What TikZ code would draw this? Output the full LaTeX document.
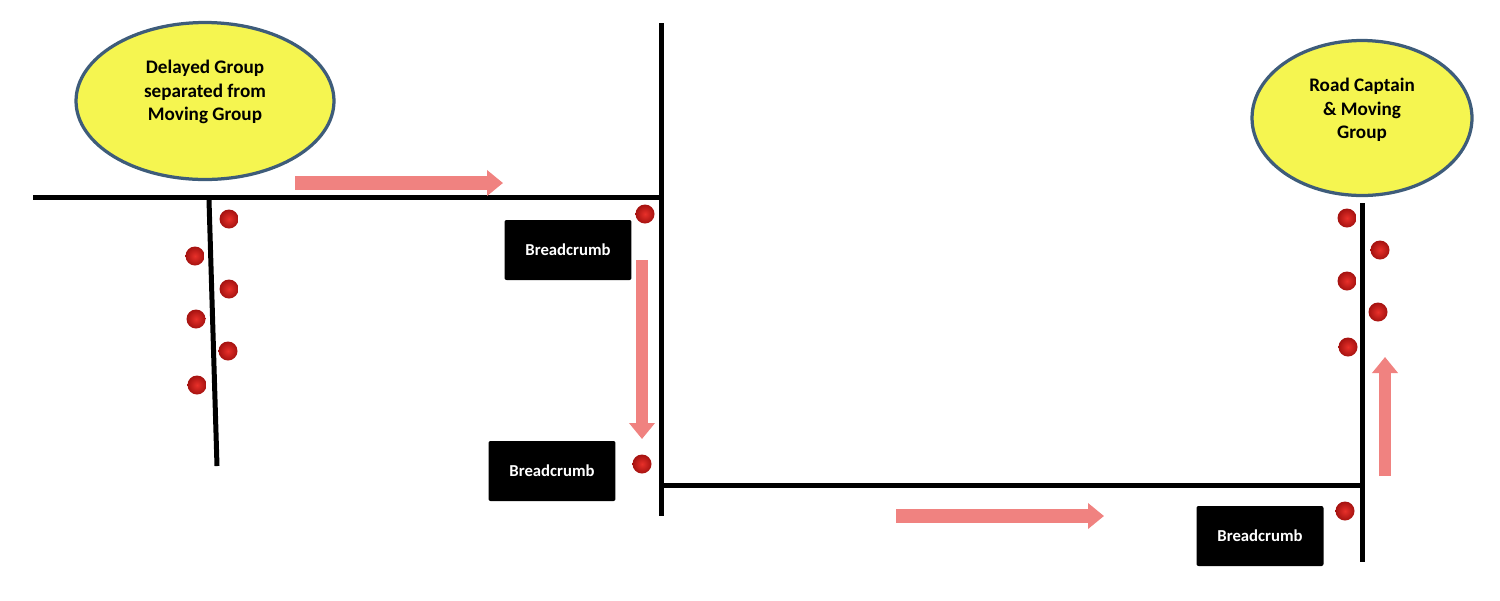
\documentclass[tikz,border=0pt]{standalone}
\usepackage{fontspec}
\setmainfont{Carlito}
\usetikzlibrary{arrows.meta,shapes.geometric}
\definecolor{ellfill}{RGB}{245,245,80}
\definecolor{ellline}{RGB}{62,92,122}
\definecolor{pinkarrow}{RGB}{240,130,128}
\definecolor{dotinner}{RGB}{232,48,42}
\definecolor{dotouter}{RGB}{165,18,16}
\tikzset{
  road/.style={line width=0.1cm, black},
  bubble/.style={ellipse, draw=ellline, line width=0.065cm, fill=ellfill, inner sep=0pt},
  bubbletext/.style={align=center, inner sep=0pt,
    font=\bfseries\fontsize{10.9}{13.3}\selectfont},
  crumb/.style={rectangle, fill=black, rounded corners=0.04cm, text=white,
    minimum width=2.54cm, minimum height=1.2cm, font=\bfseries\fontsize{9.5}{11}\selectfont},
  rider/.style={circle, minimum size=0.38cm, inner sep=0pt, shading=radial,
    inner color=dotinner, outer color=dotouter},
  move/.style={draw=pinkarrow, line width=0.27cm,
    -{Triangle[length=0.32cm, width=0.5cm, fill=pinkarrow]}, shorten >=0pt},
}
\begin{document}
\begin{tikzpicture}[x=0.02cm, y=-0.02cm]
\useasboundingbox (0,0) rectangle (1500,600);
% roads
\coordinate (r1a) at (33,197);
\coordinate (r1b) at (661,197);
\coordinate (v1a) at (661,23);
\coordinate (v1b) at (661,516);
\coordinate (sa) at (209,200);
\coordinate (sb) at (217,466);
\coordinate (r2a) at (661,485);
\coordinate (r2b) at (1362,485);
\coordinate (v2a) at (1362,203);
\coordinate (v2b) at (1362,562);
\draw[road] (r1a) -- (r1b);
\draw[road] (v1a) -- (v1b);
\draw[road] (sa) -- (sb);
\draw[road] (r2a) -- (r2b);
\draw[road] (v2a) -- (v2b);
% groups
\node[bubble, minimum width=5.16cm, minimum height=3.14cm] (delayed) at (205,101) {};
\node[bubbletext] (delayedtext) at (205,92) {Delayed Group\\separated from\\Moving Group};
\node[bubble, minimum width=4.4cm, minimum height=3.1cm] (captain) at (1362,118) {};
\node[bubbletext] (captaintext) at (1362,110) {Road Captain\\\& Moving\\Group};
% breadcrumbs
\node[crumb] (b1) at (568,250) {Breadcrumb};
\node[crumb] (b2) at (552,471) {Breadcrumb};
\node[crumb] (b3) at (1260,536) {Breadcrumb};
% riders
\node[rider] (d1) at (229,219) {};
\node[rider] (d2) at (195,256) {};
\node[rider] (d3) at (229,289) {};
\node[rider] (d4) at (196,319) {};
\node[rider] (d5) at (228,351) {};
\node[rider] (d6) at (197,385) {};
\node[rider] (m1) at (645,214) {};
\node[rider] (m2) at (642,464) {};
\node[rider] (c1) at (1347,218) {};
\node[rider] (c2) at (1380,250) {};
\node[rider] (c3) at (1347,281) {};
\node[rider] (c4) at (1378,312) {};
\node[rider] (c5) at (1348,347) {};
\node[rider] (c6) at (1345,511) {};
% movement arrows
\coordinate (a1s) at (295,183);
\coordinate (a1e) at (503,183);
\coordinate (a2s) at (642,260);
\coordinate (a2e) at (642,439);
\coordinate (a3s) at (896,516);
\coordinate (a3e) at (1104,516);
\coordinate (a4s) at (1385,476);
\coordinate (a4e) at (1385,357);
\draw[move] (a1s) -- (a1e);
\draw[move, line width=0.24cm] (a2s) -- (a2e);
\draw[move] (a3s) -- (a3e);
\draw[move, line width=0.24cm] (a4s) -- (a4e);
\end{tikzpicture}
\end{document}
